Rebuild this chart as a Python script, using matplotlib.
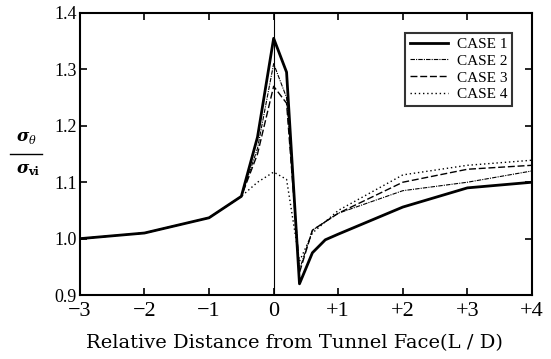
import numpy as np
import matplotlib.pyplot as plt
from matplotlib.lines import Line2D

plt.rcParams['font.family'] = ['Liberation Serif', 'DejaVu Serif']

x = [-3, -2, -1, -0.5, -0.25, 0, 0.2, 0.4, 0.6, 0.8, 1, 2, 3, 4]
case1 = [1.0, 1.01, 1.037, 1.075, 1.18, 1.355, 1.295, 0.92, 0.975, 0.998, 1.008, 1.056, 1.09, 1.10]
case2 = [1.0, 1.01, 1.037, 1.075, 1.16, 1.31, 1.25, 0.945, 1.015, 1.03, 1.045, 1.085, 1.10, 1.12]
case3 = [1.0, 1.01, 1.037, 1.075, 1.15, 1.27, 1.24, 0.94, 1.015, 1.03, 1.045, 1.10, 1.123, 1.13]
case4 = [1.0, 1.01, 1.037, 1.075, 1.10, 1.118, 1.105, 0.96, 1.01, 1.03, 1.05, 1.113, 1.13, 1.139]

xticks = [-3, -2, -1, 0, 1, 2, 3, 4]
xticklabels = ['\u22123', '\u22122', '\u22121', '0', '+1', '+2', '+3', '+4']
yticks = [0.9, 1.0, 1.1, 1.2, 1.3, 1.4]

fig = plt.figure(figsize=(5.51, 3.59), dpi=100)
ax = fig.add_axes([0.145, 0.178, 0.8205, 0.786])

ax.plot(x, case1, color='black', lw=2.0, label='CASE 1')
ax.plot(x, case2, color='black', lw=0.8, ls=(0, (4, 1, 1, 1)), label='CASE 2')
ax.plot(x, case3, color='black', lw=1.0, ls=(0, (5, 2)), label='CASE 3')
ax.plot(x, case4, color='black', lw=1.0, ls=(0, (1, 2)), label='CASE 4')
ax.axvline(0, color='black', lw=0.8)

ax.set_xlim(-3, 4)
ax.set_ylim(0.9, 1.4)
ax.set_xticks(xticks)
ax.set_xticklabels(xticklabels, fontsize=16)
ax.set_yticks(yticks)
ax.set_yticklabels(['%.1f' % v for v in yticks], fontsize=13)
ax.tick_params(direction='in', top=True, right=True, length=5, width=1.2, pad=2)
ax.tick_params(axis='x', pad=5)
for s in ax.spines.values():
    s.set_linewidth(1.5)

fig.text(0.534, 0.045, 'Relative Distance from Tunnel Face(L / D)',
         fontsize=14, family='DejaVu Serif', ha='center', va='center')

leg = ax.legend(loc='upper right', fontsize=11, frameon=True, fancybox=False,
                edgecolor='black', handlelength=2.5, labelspacing=0.2,
                borderaxespad=1.3, borderpad=0.3, handletextpad=0.6)
leg.get_frame().set_linewidth(1.5)

# y label as a fraction sigma_theta / sigma_vi
fig.text(0.031, 0.621, '\u03c3', fontsize=12, fontweight='bold', style='italic',
         family='DejaVu Serif', ha='left', va='center')
fig.text(0.052, 0.606, '\u03b8', fontsize=8, style='italic',
         family='DejaVu Serif', ha='left', va='center')
fig.add_artist(Line2D([0.018, 0.076], [0.571, 0.571], color='black', lw=1.0,
                      transform=fig.transFigure))
fig.text(0.031, 0.532, '\u03c3', fontsize=12, fontweight='bold', style='italic',
         family='DejaVu Serif', ha='left', va='center')
fig.text(0.052, 0.522, 'vi', fontsize=8, fontweight='bold',
         family='DejaVu Serif', ha='left', va='center')

fig.savefig('out.png', dpi=100)
